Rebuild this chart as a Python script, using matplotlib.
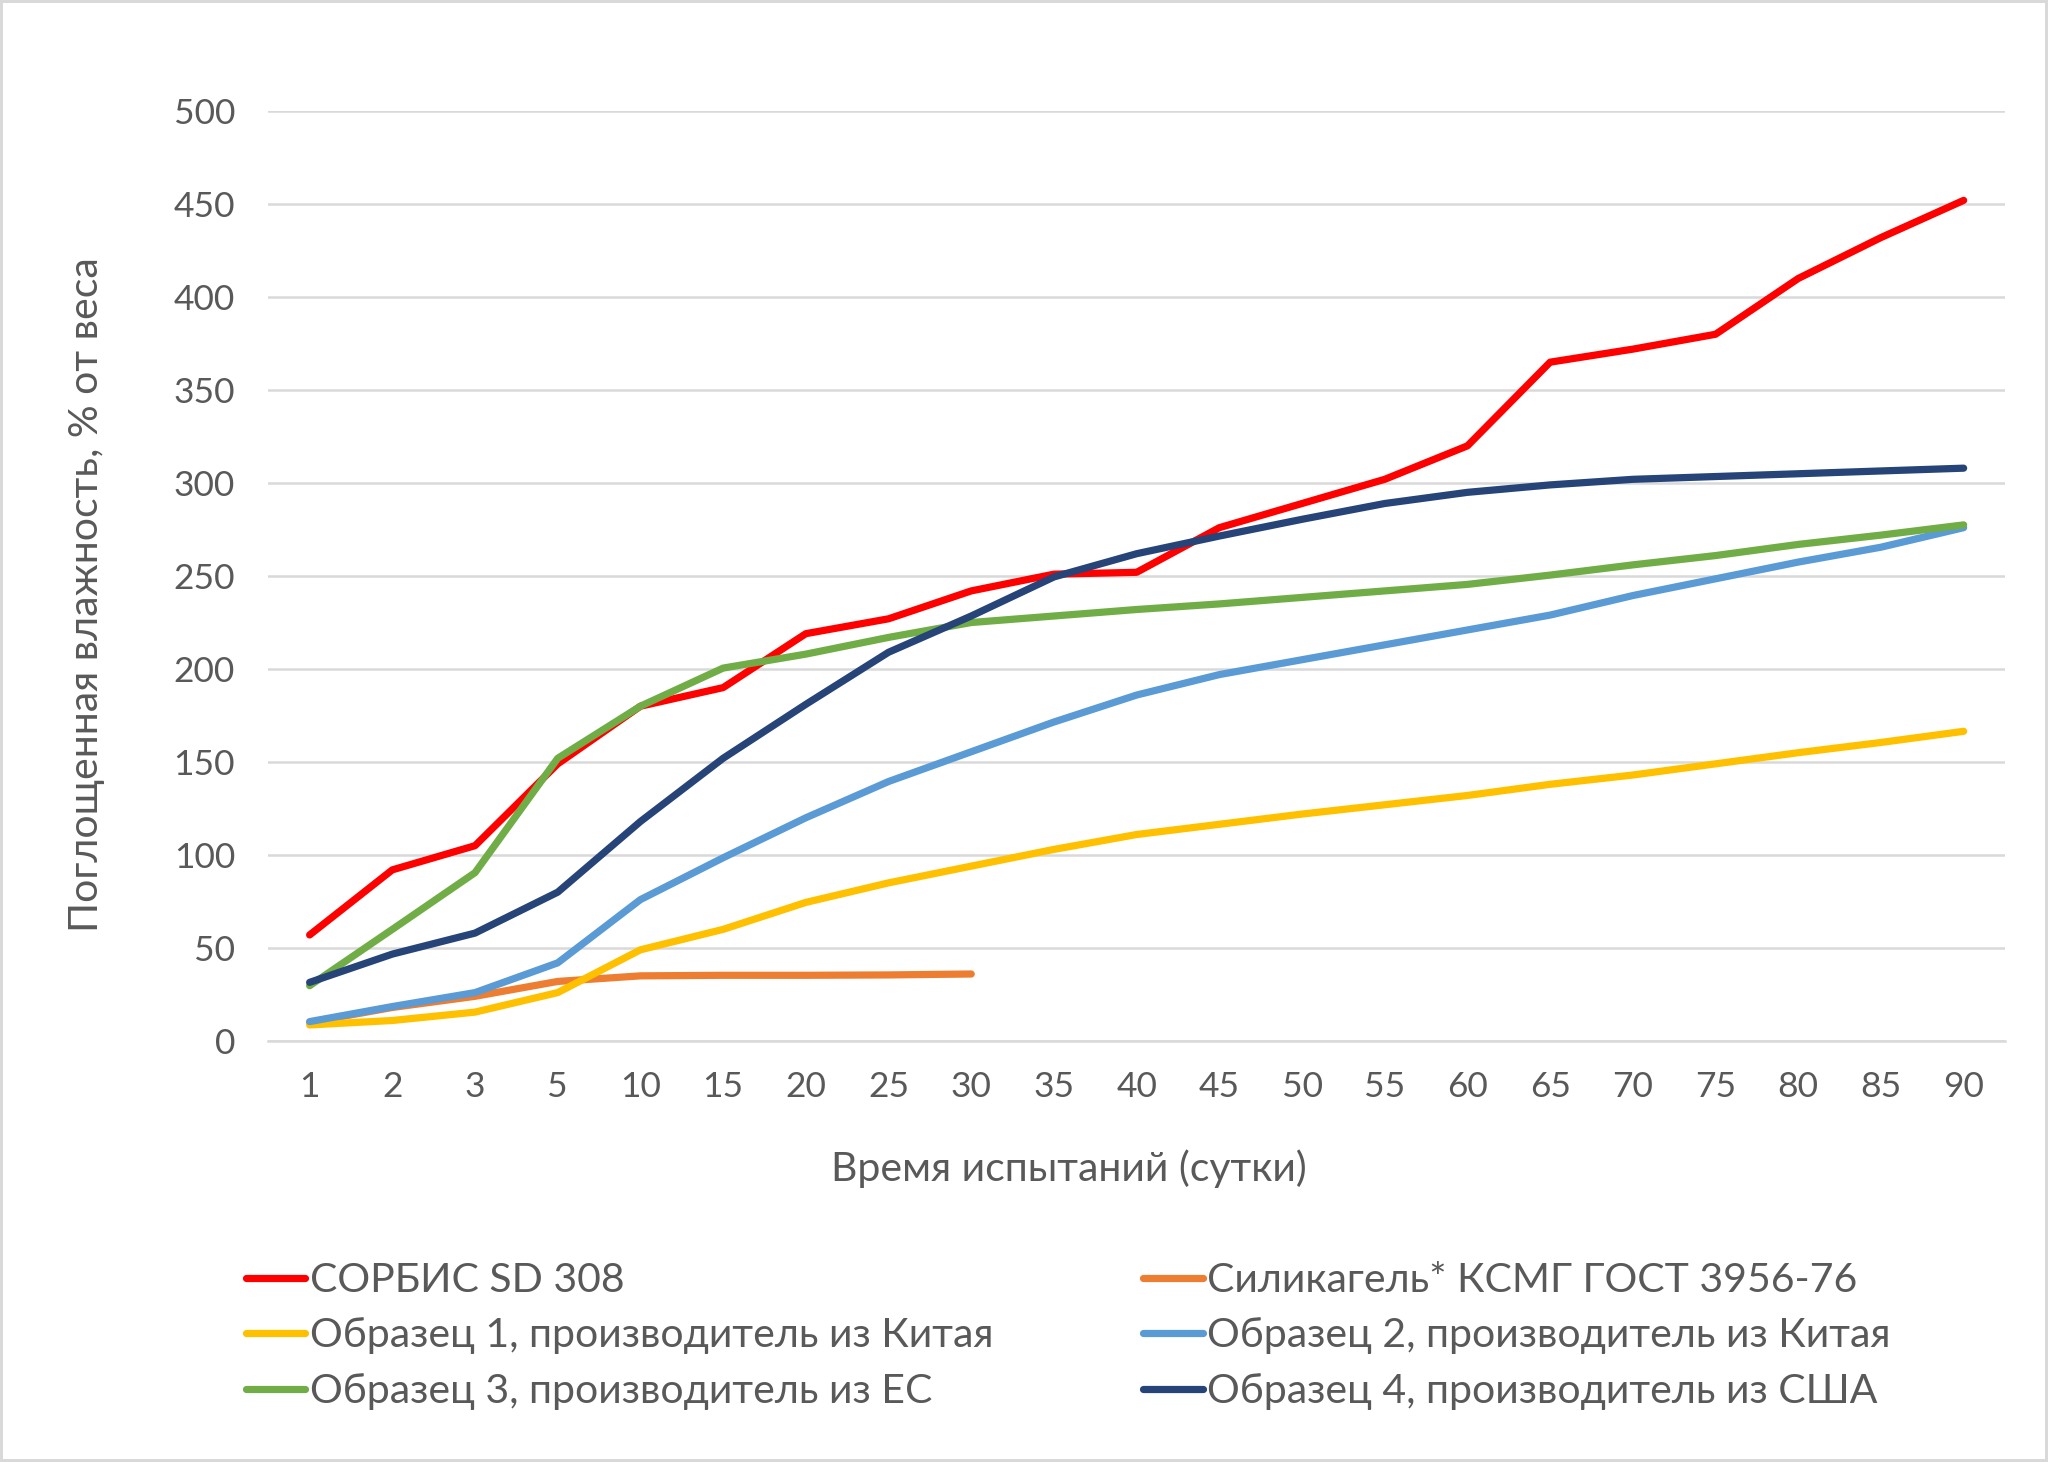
import numpy as np
import matplotlib.pyplot as plt

plt.rcParams['font.family'] = ['Lato', 'DejaVu Sans']

days = ["1", "2", "3", "5", "10", "15", "20", "25", "30", "35", "40",
        "45", "50", "55", "60", "65", "70", "75", "80", "85", "90"]

sorbis = [57, 92, 105, 149, 180, 190, 219, 227, 242, 251, 252,
          276, 289, 302, 320, 365, 372, 380, 410, 432, 452]
silica = [10, 18, 24, 32, 35, 35.3, 35.3, 35.5, 36]
sample1 = [8.6, 11, 15.5, 26, 49, 60, 74.5, 85, 94, 103, 111,
           116.5, 122, 127, 132, 138, 143, 149, 155, 160.5, 166.5]
sample2 = [10.4, 18.5, 26, 42, 76, 98.5, 120, 139.5, 155.5, 171.5, 186,
           197, 205, 213, 221, 229, 239.5, 248.5, 257.5, 265.5, 276]
sample3 = [29.7, 60, 90.5, 152, 180, 200.5, 208, 217, 225, 228.5, 232,
           235, 238.5, 242, 245.5, 250.5, 256, 261, 267, 272, 277.5]
sample4 = [31.5, 46.7, 58, 80, 118, 152, 181, 209, 228.5, 249.5, 262,
           271.5, 280.5, 289, 295, 299, 302, 303.5, 305, 306.5, 308]

labels = ["СОРБИС SD 308", "Силикагель* КСМГ ГОСТ 3956-76",
          "Образец 1, производитель из Китая", "Образец 2, производитель из Китая",
          "Образец 3, производитель из ЕС", "Образец 4, производитель из США"]
colors = ["#FF0000", "#ED7D31", "#FFC000", "#5B9BD5", "#70AD47", "#264478"]
series = [sorbis, silica, sample1, sample2, sample3, sample4]

fig = plt.figure(figsize=(20.48, 14.62), dpi=100)
fig.patch.set_edgecolor("#d9d9d9")
fig.patch.set_linewidth(3)
ax = fig.add_axes([0.131, 0.288, 0.848, 0.636])

x = np.arange(len(days))
lines = {}
for lab, col, vals in zip(labels, colors, series):
    lines[lab], = ax.plot(x[:len(vals)], vals, color=col, lw=5.2,
                          solid_capstyle="round", solid_joinstyle="round")

ax.set_xlim(-0.5, len(days) - 0.5)
ax.set_ylim(0, 500)
ax.set_yticks(np.arange(0, 501, 50))
ax.set_xticks(x)
ax.set_xticklabels(days)
ax.grid(axis="y", color="#d9d9d9", lw=1.8)
ax.set_axisbelow(True)
for s in ["top", "right", "left"]:
    ax.spines[s].set_visible(False)
ax.spines["bottom"].set_color("#d9d9d9")
ax.spines["bottom"].set_linewidth(1.8)
ax.tick_params(length=0, labelsize=25.5, colors="#595959")
ax.tick_params(axis="y", pad=24)
ax.tick_params(axis="x", pad=22)

ax.set_ylabel("Поглощенная влажность, % от веса", fontsize=29.5, color="#595959")
ax.set_xlabel("Время испытаний (сутки)", fontsize=29.5, color="#595959")
# Excel puts the titles a bit off the axes centre
ax.xaxis.set_label_coords(0.461, -0.117)
ax.yaxis.set_label_coords(-0.094, 0.48)

order = [labels[0], labels[2], labels[4], labels[1], labels[3], labels[5]]
fig.legend([lines[l] for l in order], order, loc="upper left",
           bbox_to_anchor=(0.112, 0.148), ncol=2, frameon=False,
           fontsize=29.5, labelcolor="#595959", handlelength=1.45,
           handletextpad=0.12, columnspacing=3.65, labelspacing=0.45,
           borderaxespad=0)

fig.savefig("out.png", dpi=100)
